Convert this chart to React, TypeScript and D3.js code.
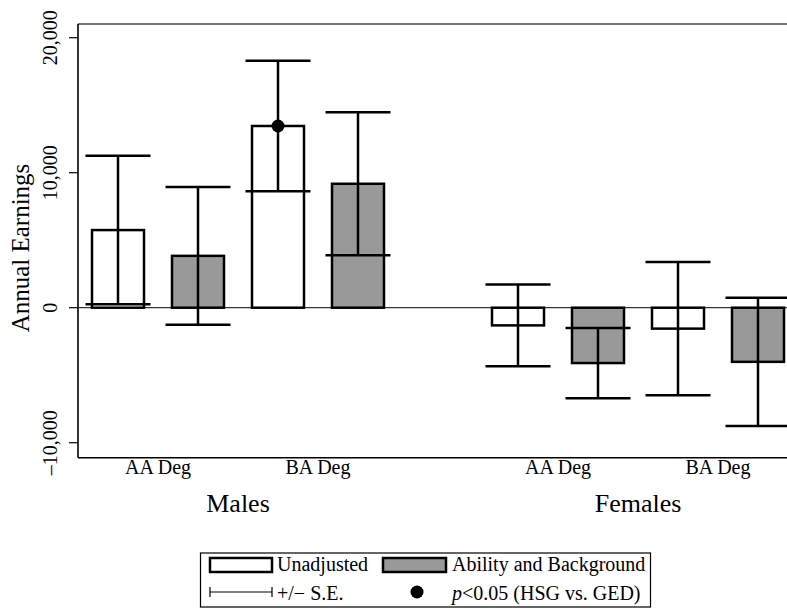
import React from "react";
import * as d3 from "d3";

const groups = ["Males", "Females"];
const degrees = ["AA Deg", "BA Deg"];
const seriesNames = ["Unadjusted", "Ability and Background"];
// position index, group, degree, series
const positions = [1, 2, 3, 4, 6, 7, 8, 9];
const barGroup = [0, 0, 0, 0, 1, 1, 1, 1];
const barSeries = [0, 1, 0, 1, 0, 1, 0, 1];
const estimates = [5750, 3840, 13460, 9180, -1310, -4100, -1550, -4010];
const stdErrors = [5500, 5100, 4840, 5290, 3030, 2600, 4940, 4750];
const significant = [false, false, true, false, false, false, false, false];
const degreeLabelPos = [1.5, 3.5, 6.5, 8.5];
const degreeLabels = ["AA Deg", "BA Deg", "AA Deg", "BA Deg"];
const groupLabelPos = [2.5, 7.5];
const yTicks = [-10000, 0, 10000, 20000];

const W = 787;
const H = 612;
const FONT = "'Liberation Serif', 'Times New Roman', Times, serif";
const GRAY = "#999999";

export default function App() {
  const x = d3.scaleLinear().domain([0.5, 9.5]).range([78, 798]);
  const y = d3.scaleLinear().domain([0, 10000]).range([307.7, 172.7]);
  const fmt = d3.format(",");
  const barW = 52;
  const whisk = 65;
  const top = 24;
  const bottom = 457.7;
  const left = 78;

  return (
    <svg
      width={W}
      height={H}
      style={{ position: "absolute", left: 0, top: 0, background: "#fff" }}
      fontFamily={FONT}
    >
      {/* plot frame */}
      <line x1={left} x2={W} y1={top} y2={top} stroke="#444" strokeWidth={1.6} />
      <line x1={left} x2={W} y1={bottom} y2={bottom} stroke="#000" strokeWidth={1.6} />
      <line x1={left} x2={left} y1={top} y2={bottom} stroke="#000" strokeWidth={1.6} />
      {/* zero line */}
      <line x1={left} x2={W} y1={y(0)} y2={y(0)} stroke="#333" strokeWidth={1.2} />

      {/* y ticks */}
      {yTicks.map((t) => (
        <g key={t}>
          <line x1={left - 9} x2={left} y1={y(t)} y2={y(t)} stroke="#000" strokeWidth={1.2} />
          <text
            transform={`translate(57,${y(t)}) rotate(-90)`}
            textAnchor="middle"
            fontSize={20}
          >
            {t < 0 ? "\u2013" + fmt(-t) : fmt(t)}
          </text>
        </g>
      ))}
      <text transform={`translate(29,248) rotate(-90)`} textAnchor="middle" fontSize={25}>
        Annual Earnings
      </text>

      {/* bars */}
      {positions.map((p, i) => {
        const v = estimates[i];
        const y0 = y(Math.max(0, v));
        const h = Math.abs(y(v) - y(0));
        return (
          <rect
            key={"b" + i}
            x={x(p) - barW / 2}
            y={y0}
            width={barW}
            height={h}
            fill={barSeries[i] === 0 ? "#fff" : GRAY}
            stroke="#000"
            strokeWidth={2.5}
          />
        );
      })}
      {/* zero line over bars */}
      {/* error bars */}
      {positions.map((p, i) => {
        const lo = estimates[i] - stdErrors[i];
        const hi = estimates[i] + stdErrors[i];
        const cx = x(p);
        return (
          <g key={"e" + i} stroke="#000" strokeWidth={2.5}>
            <line x1={cx} x2={cx} y1={y(lo)} y2={y(hi)} />
            <line x1={cx - whisk / 2} x2={cx + whisk / 2} y1={y(lo)} y2={y(lo)} />
            <line x1={cx - whisk / 2} x2={cx + whisk / 2} y1={y(hi)} y2={y(hi)} />
          </g>
        );
      })}
      {positions.map((p, i) =>
        significant[i] ? (
          <circle key={"s" + i} cx={x(p)} cy={y(estimates[i])} r={6.5} fill="#000" />
        ) : null
      )}

      {/* x labels */}
      {degreeLabelPos.map((p, i) => (
        <text key={"d" + i} x={x(p)} y={474} textAnchor="middle" fontSize={20}>
          {degreeLabels[i]}
        </text>
      ))}
      {groupLabelPos.map((p, i) => (
        <text key={"g" + i} x={x(p)} y={512} textAnchor="middle" fontSize={26}>
          {groups[i]}
        </text>
      ))}

      {/* legend */}
      <g>
        <rect x={200.5} y={553} width={450} height={54} fill="#fff" stroke="#000" strokeWidth={1.2} />
        <rect x={210} y={558} width={62} height={14} fill="#fff" stroke="#000" strokeWidth={2.5} />
        <text x={277} y={571} fontSize={20}>{seriesNames[0]}</text>
        <rect x={383} y={558} width={63} height={14} fill={GRAY} stroke="#000" strokeWidth={2.5} />
        <text x={452} y={571} fontSize={20}>{seriesNames[1]}</text>
        <line x1={210} x2={272} y1={592} y2={592} stroke="#000" strokeWidth={1.2} />
        <line x1={210} x2={210} y1={587} y2={597} stroke="#000" strokeWidth={1.2} />
        <line x1={272} x2={272} y1={587} y2={597} stroke="#000" strokeWidth={1.2} />
        <text x={277} y={600} fontSize={20}>+/{"\u2212"} S.E.</text>
        <circle cx={417} cy={592} r={6.5} fill="#000" />
        <text x={452} y={600} fontSize={20}>
          <tspan fontStyle="italic">p</tspan>
          {"<0.05 (HSG vs. GED)"}
        </text>
      </g>
    </svg>
  );
}
